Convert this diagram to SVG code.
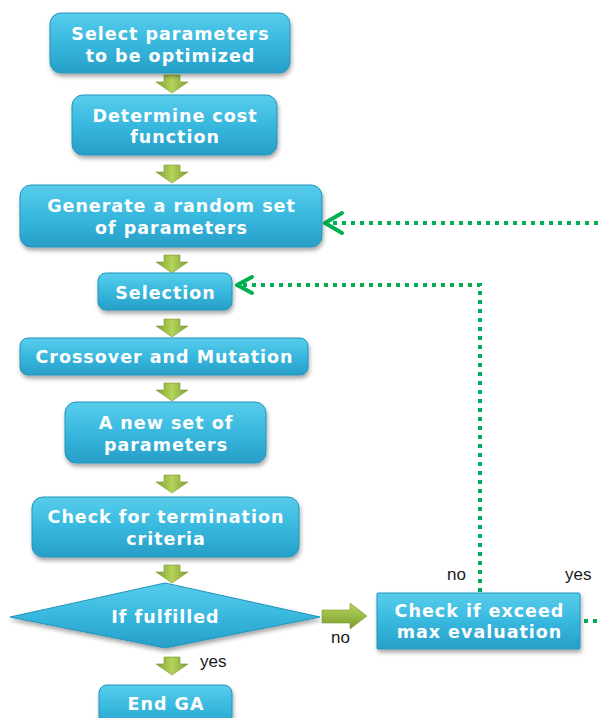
<svg xmlns="http://www.w3.org/2000/svg" width="598" height="718" viewBox="0 0 598 718">
<defs>
<linearGradient id="gBox" x1="0" y1="0" x2="0" y2="1">
<stop offset="0" stop-color="#58cdec"/>
<stop offset="0.5" stop-color="#38b8de"/>
<stop offset="1" stop-color="#279fc8"/>
</linearGradient>
<linearGradient id="gArr" x1="0" y1="0" x2="1" y2="0">
<stop offset="0" stop-color="#7f9f35"/>
<stop offset="0.5" stop-color="#b5d45a"/>
<stop offset="1" stop-color="#7f9f35"/>
</linearGradient>
<linearGradient id="gArrH" x1="0" y1="0" x2="0" y2="1">
<stop offset="0" stop-color="#b5d45a"/>
<stop offset="0.5" stop-color="#9bbb47"/>
<stop offset="1" stop-color="#7a9a30"/>
</linearGradient>
<filter id="sh" x="-10%" y="-10%" width="120%" height="130%">
<feDropShadow dx="1" dy="3" stdDeviation="2" flood-color="#000" flood-opacity="0.35"/>
</filter>
<path id="dArr" d="M-8,0 H8 V7 H16 L0,18 L-16,7 H-8 Z"/>
</defs>
<style>
.box{fill:url(#gBox);stroke:#2394bb;stroke-width:1;filter:url(#sh)}
.t{font-family:"DejaVu Sans",sans-serif;font-weight:bold;font-size:17.5px;letter-spacing:1px;fill:#fff;text-anchor:middle}
.lbl{font-family:"Liberation Sans",Arial,sans-serif;font-size:17px;fill:#1a1a1a}
.arr{fill:url(#gArr);stroke:#7a9a30;stroke-width:0.6}
.dot{fill:none;stroke:#00b050;stroke-width:4;stroke-dasharray:4 5}
.head{fill:none;stroke:#00b050;stroke-width:4;stroke-linecap:round;stroke-linejoin:round}
</style>
<g id="connectors">
<use href="#dArr" class="arr" x="172" y="75"/>
<use href="#dArr" class="arr" x="172" y="165"/>
<use href="#dArr" class="arr" x="172" y="255"/>
<use href="#dArr" class="arr" x="172" y="319"/>
<use href="#dArr" class="arr" x="172" y="383"/>
<use href="#dArr" class="arr" x="172" y="475"/>
<use href="#dArr" class="arr" x="172" y="565"/>
<use href="#dArr" class="arr" x="172" y="657"/>
<path d="M322,610 H350 V603 L367,616 L350,629 V623 H322 Z" fill="url(#gArrH)" stroke="#7a9a30" stroke-width="0.6"/>
<path class="dot" d="M480,592 V285 H240"/>
<path class="head" d="M252,277 L237,285 L252,293"/>
<path class="dot" d="M598,223 H328"/>
<path class="head" d="M342,213 L325,223 L342,233"/>
<path class="dot" d="M584,621 H598"/>
</g>
<g id="n1"><rect class="box" x="50" y="13" width="240" height="60" rx="11"/><text class="t" x="170.5" y="40">Select parameters</text><text class="t" x="170.5" y="62">to be optimized</text></g>
<g id="n2"><rect class="box" x="72" y="95" width="205" height="60" rx="11"/><text class="t" x="175" y="122">Determine cost</text><text class="t" x="175" y="143">function</text></g>
<g id="n3"><rect class="box" x="20" y="185" width="302" height="62" rx="11"/><text class="t" x="171.5" y="212">Generate a random set</text><text class="t" x="171.5" y="234">of parameters</text></g>
<g id="n4"><rect class="box" x="98" y="273" width="134" height="37" rx="8"/><text class="t" x="165.5" y="299">Selection</text></g>
<g id="n5"><rect class="box" x="20" y="338" width="288" height="37" rx="8"/><text class="t" x="164.5" y="363">Crossover and Mutation</text></g>
<g id="n6"><rect class="box" x="65" y="402" width="201" height="61" rx="11"/><text class="t" x="166" y="429">A new set of</text><text class="t" x="166" y="451">parameters</text></g>
<g id="n7"><rect class="box" x="32" y="497" width="267" height="60" rx="11"/><text class="t" x="166" y="523">Check for termination</text><text class="t" x="166" y="545">criteria</text></g>
<g id="n8"><path class="box" d="M10,617 L165,583 L320,617 L165,648 Z"/><text class="t" x="165.5" y="623">If fulfilled</text></g>
<g id="n9"><rect class="box" x="99" y="685" width="133" height="45" rx="8"/><text class="t" x="166" y="710">End GA</text></g>
<g id="n10"><rect class="box" x="377" y="593" width="203" height="56" rx="1"/><text class="t" x="479.5" y="617">Check if exceed</text><text class="t" x="479.5" y="638">max evaluation</text></g>
<g id="labels">
<text class="lbl" x="200" y="667">yes</text>
<text class="lbl" x="331" y="643">no</text>
<text class="lbl" x="447" y="580">no</text>
<text class="lbl" x="565" y="580">yes</text>
</g>
</svg>
